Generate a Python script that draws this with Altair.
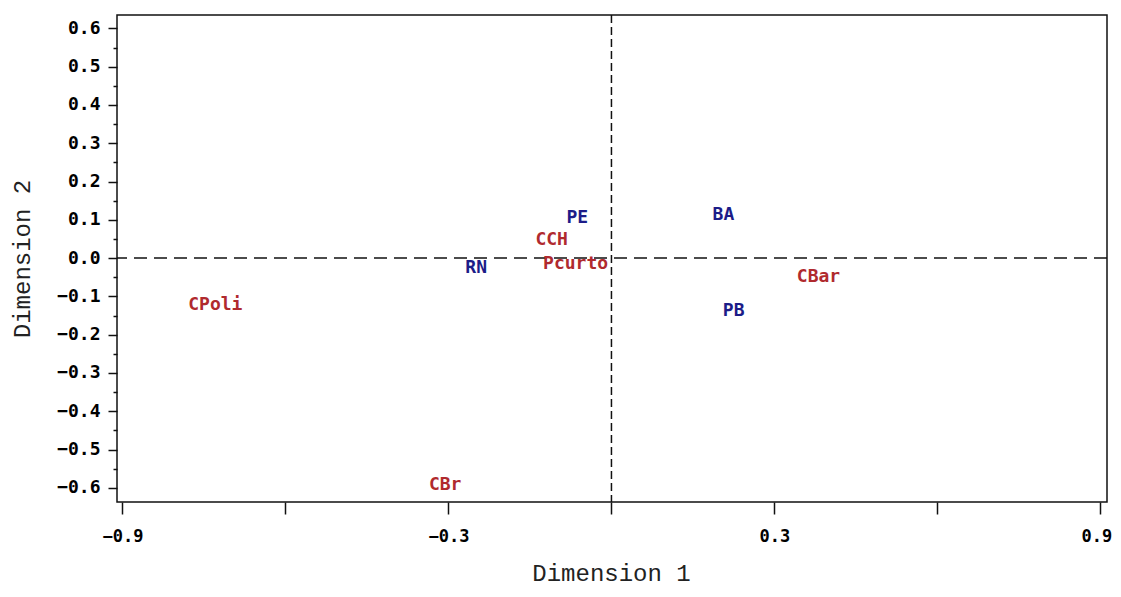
import altair as alt
import pandas as pd

# Data
labels = ["PE", "BA", "CCH", "RN", "Pcurto", "CBar", "PB", "CPoli", "CBr"]
dim1 = [-0.063, 0.206, -0.110, -0.249, -0.066, 0.381, 0.225, -0.729, -0.306]
dim2 = [0.105, 0.113, 0.048, -0.025, -0.015, -0.049, -0.138, -0.122, -0.592]
group = ["row", "row", "col", "row", "col", "col", "row", "col", "col"]

x_ticks = [-0.9, -0.6, -0.3, 0.0, 0.3, 0.6, 0.9]
y_ticks = [round(-0.6 + 0.05 * i, 2) for i in range(25)]

df = pd.DataFrame({"label": labels, "d1": dim1, "d2": dim2, "group": group})
ref_h = pd.DataFrame({"v": [0.0]})
ref_v = pd.DataFrame({"v": [0.0]})

xscale = alt.Scale(domain=[-0.91, 0.912], nice=False, zero=False)
yscale = alt.Scale(domain=[-0.637, 0.635], nice=False, zero=False)

label_font = "DejaVu Sans Mono"
title_font = "Liberation Mono"

x_axis = alt.Axis(
    values=x_ticks,
    labelExpr="(abs(datum.value) > 0.25 && abs(abs(datum.value) - 0.6) > 0.05) ? format(datum.value, '.1f') : ''",
    grid=False,
    domain=False,
    tickSize=12,
    tickWidth=1.5,
    tickColor="#111",
    labelPadding=14,
    labelFont=label_font,
    labelFontWeight="bold",
    labelFontSize=17,
    labelColor="#000",
    labelOffset={"condition": {"test": "datum.value > 0.8", "value": -4}, "value": 0},
    title="Dimension 1",
    titleFont=title_font,
    titleFontWeight="normal",
    titleFontSize=24,
    titleColor="#222",
    titleX=494,
    titleY=71,
    titleBaseline="middle",
    titleAlign="center",
)

y_axis = alt.Axis(
    values=y_ticks,
    labelExpr="abs(round(datum.value * 100)) % 10 == 0 ? format(datum.value, '.1f') : ''",
    grid=False,
    domain=False,
    tickSize={"condition": {"test": "abs(round(datum.value * 100)) % 10 == 0", "value": 9}, "value": 4},
    tickWidth=1.5,
    tickColor="#111",
    labelPadding=8,
    labelFont=label_font,
    labelFontWeight="bold",
    labelFontSize=18,
    labelColor="#000",
    title="Dimension 2",
    titleFont=title_font,
    titleFontWeight="normal",
    titleFontSize=24,
    titleColor="#222",
    titleX=-95,
    titleY=243.5,
    titleBaseline="middle",
    titleAlign="center",
    titleAngle=270,
)

hline = alt.Chart(ref_h).mark_rule(color="#111", strokeWidth=1.5, strokeDash=[13, 7]).encode(
    y=alt.Y("v:Q", scale=yscale, axis=y_axis)
)
vline = alt.Chart(ref_v).mark_rule(color="#111", strokeWidth=1.5, strokeDash=[8, 4]).encode(
    x=alt.X("v:Q", scale=xscale, axis=x_axis)
)

text = alt.Chart(df).mark_text(
    font=label_font, fontWeight="bold", fontSize=18, align="center", baseline="middle"
).encode(
    x=alt.X("d1:Q", scale=xscale, axis=x_axis),
    y=alt.Y("d2:Q", scale=yscale, axis=y_axis),
    text="label:N",
    color=alt.Color(
        "group:N",
        scale=alt.Scale(domain=["row", "col"], range=["#1c1c88", "#b02a2e"]),
        legend=None,
    ),
)

chart = (
    alt.layer(hline, vline, text)
    .properties(
        width=990,
        height=487,
        autosize=alt.AutoSizeParams(type="none"),
        padding={"left": 109, "top": 7, "right": 5, "bottom": 87},
        background="white",
    )
    .configure_view(stroke="#111", strokeWidth=1.5)
)

chart.save("out.html", embed_options={"renderer": "svg", "actions": False})
